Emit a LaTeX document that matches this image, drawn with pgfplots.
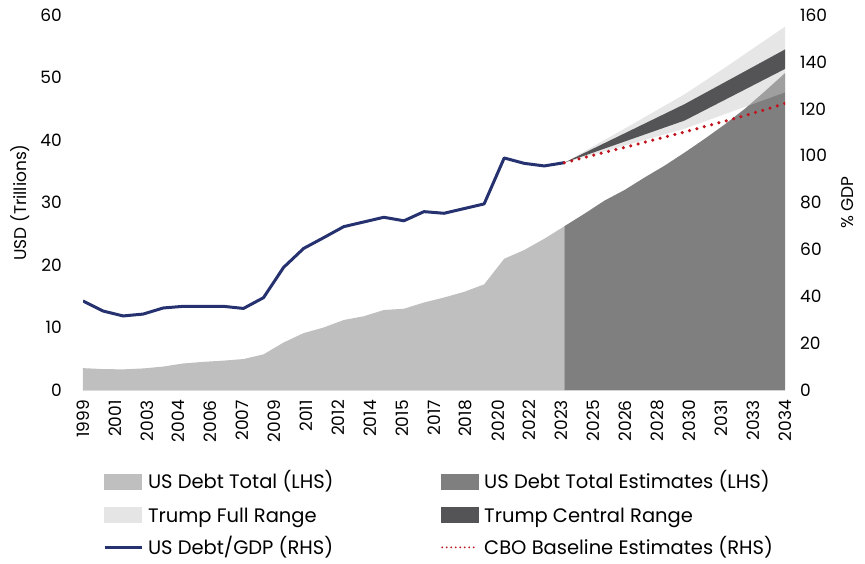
\documentclass[border=0pt]{standalone}
\usepackage{pgfplots}
\pgfplotsset{compat=1.18}
\usepackage{fontspec}
\setmainfont{Poppins}
\definecolor{histgray}{HTML}{BFBFBF}
\definecolor{estgray}{HTML}{7F7F7F}
\definecolor{fullgray}{HTML}{C7C7C7}
\definecolor{centralgray}{HTML}{545456}
\definecolor{navy}{HTML}{26316F}
\definecolor{cbored}{HTML}{C0141E}

\newcommand{\lblfont}{\fontsize{17}{20}\selectfont}
\newcommand{\legfont}{\fontsize{19.5}{23}\selectfont}
% fixed-height box for legend text
\newcommand{\legtxt}[1]{\raisebox{0pt}[14pt][4pt]{#1}}

\pgfplotsset{
  base/.style={
    width=702pt, height=375pt, scale only axis,
    xmin=1999, xmax=2034, ymin=0,
    major tick length=0pt,
    /pgf/number format/assume math mode=true,
    tick label style={font=\lblfont, inner sep=0pt},
    label style={font=\lblfont},
  },
}

\begin{document}
\begin{tikzpicture}
% left axis: debt in trillions
\begin{axis}[base,
  ymax=60, ytick={0,10,...,60},
  axis x line*=bottom, axis y line*=left,
  x axis line style={draw=black!12, line width=1.5pt},
  y axis line style={draw=none},
  xtick={1999.00,2000.59,2002.18,2003.77,2005.36,2006.95,2008.55,2010.14,2011.73,2013.32,2014.91,2016.50,2018.09,2019.68,2021.27,2022.86,2024.45,2026.05,2027.64,2029.23,2030.82,2032.41,2034.00},
  xticklabels={1999,2001,2003,2004,2006,2007,2009,2011,2012,2014,2015,2017,2018,2020,2022,2023,2025,2026,2028,2030,2031,2033,2034},
  xticklabel style={rotate=90, anchor=east},
  xticklabel shift=10pt,
  yticklabel shift=21pt,
  ylabel={USD (Trillions)},
  ylabel style={at={(rel axis cs:-0.0897,0.5)}, anchor=center},
]
\coordinate (bl) at (rel axis cs:0,0);
\coordinate (tr) at (rel axis cs:1,1);
% US debt total
\addplot[fill=histgray, draw=none] coordinates {
  (1999,3.5) (2000,3.35) (2001,3.3) (2002,3.45) (2003,3.75) (2004,4.25)
  (2005,4.5) (2006,4.7) (2007,4.95) (2008,5.7) (2009,7.6) (2010,9.1)
  (2011,10.0) (2012,11.2) (2013,11.8) (2014,12.8) (2015,13.0) (2016,14.0)
  (2017,14.8) (2018,15.7) (2019,16.9) (2020,21.0) (2021,22.4) (2022,24.2)
  (2023,26.2)
} \closedcycle;
% US debt total estimates
\addplot[fill=estgray, draw=none] coordinates {
  (2023,26.2) (2024,28.2) (2025,30.3) (2026,32.0) (2027,34.0) (2028,35.9)
  (2029,38.0) (2030,40.2) (2031,42.5) (2032,45.0) (2033,47.8) (2034,50.7)
} \closedcycle;
\end{axis}

% right axis: % of GDP
\begin{axis}[base,
  ymax=160, ytick={0,20,...,160},
  axis x line=none, axis y line*=right,
  y axis line style={draw=none},
  yticklabel shift=15pt,
  ylabel={\% GDP},
  ylabel style={at={(rel axis cs:1.089,0.5)}, anchor=center},
  legend columns=2,
  legend cell align=left,
  legend style={
    at={(rel axis cs:0.0285,-0.2227)}, anchor=north west,
    draw=none, fill=none, inner sep=0pt,
    font=\legfont,
    nodes={inner sep=0pt},
    row sep=17pt,
    /tikz/every odd column/.append style={column sep=5pt},
    /tikz/every even column/.append style={column sep=0pt},
  },
]
% Trump full range
\addplot[forget plot, fill=fullgray, fill opacity=0.45, draw=none] coordinates {
  (2023,97) (2029,111.5) (2034,127)
  (2034,155) (2031,137.5) (2029,126.2) (2026,111.5) (2023,97)
} -- cycle;
% Trump central range
\addplot[forget plot, fill=centralgray, draw=none] coordinates {
  (2023,97) (2029,115) (2034,137)
  (2034,145.3) (2029,122) (2023,97)
} -- cycle;
% US debt / GDP
\addplot[forget plot, navy, line width=3pt, line join=round] coordinates {
  (1999,38.0) (2000,33.7) (2001,31.6) (2002,32.4) (2003,35.0) (2004,35.7)
  (2005,35.7) (2006,35.7) (2007,34.8) (2008,39.4) (2009,52.3) (2010,60.4)
  (2011,65.0) (2012,69.7) (2013,71.7) (2014,73.7) (2015,72.2) (2016,76.1)
  (2017,75.4) (2018,77.4) (2019,79.4) (2020,99.0) (2021,96.7) (2022,95.6)
  (2023,97.0)
};
% CBO baseline
\addplot[forget plot, cbored, line width=3.5pt, line cap=round, dash pattern=on 0pt off 7.6pt] coordinates {
  (2023,97) (2024,99.2) (2025,101.4) (2026,103.5) (2027,105.7) (2028,107.9)
  (2029,110.1) (2030,112.4) (2031,114.7) (2032,117.1) (2033,119.6) (2034,122.3)
};
\addlegendimage{legend image code/.code={\fill[histgray] (0pt,-6.5pt) rectangle (37pt,8.5pt);}}
\addlegendentry{\legtxt{\makebox[293pt][l]{US Debt Total (LHS)}}}
\addlegendimage{legend image code/.code={\fill[estgray] (0pt,-6.5pt) rectangle (37pt,8.5pt);}}
\addlegendentry{\legtxt{US Debt Total Estimates (LHS)}}
\addlegendimage{legend image code/.code={\fill[black!10] (0pt,-6.5pt) rectangle (37pt,8.5pt);}}
\addlegendentry{\legtxt{Trump Full Range}}
\addlegendimage{legend image code/.code={\fill[centralgray] (0pt,-6.5pt) rectangle (37pt,8.5pt);}}
\addlegendentry{\legtxt{Trump Central Range}}
\addlegendimage{legend image code/.code={\draw[navy, line width=2.8pt] (0pt,1pt) -- (37pt,1pt);}}
\addlegendentry{\legtxt{US Debt/GDP (RHS)}}
\addlegendimage{legend image code/.code={\draw[cbored, line width=2pt, line cap=round, dash pattern=on 0pt off 4.5pt] (1pt,1pt) -- (37pt,1pt);}}
\addlegendentry{\legtxt{CBO Baseline Estimates (RHS)}}
\end{axis}
\pgfresetboundingbox
\path[use as bounding box] ([xshift=-83pt,yshift=-173pt]bl) rectangle ([xshift=80pt,yshift=15pt]tr);
\end{tikzpicture}
\end{document}
